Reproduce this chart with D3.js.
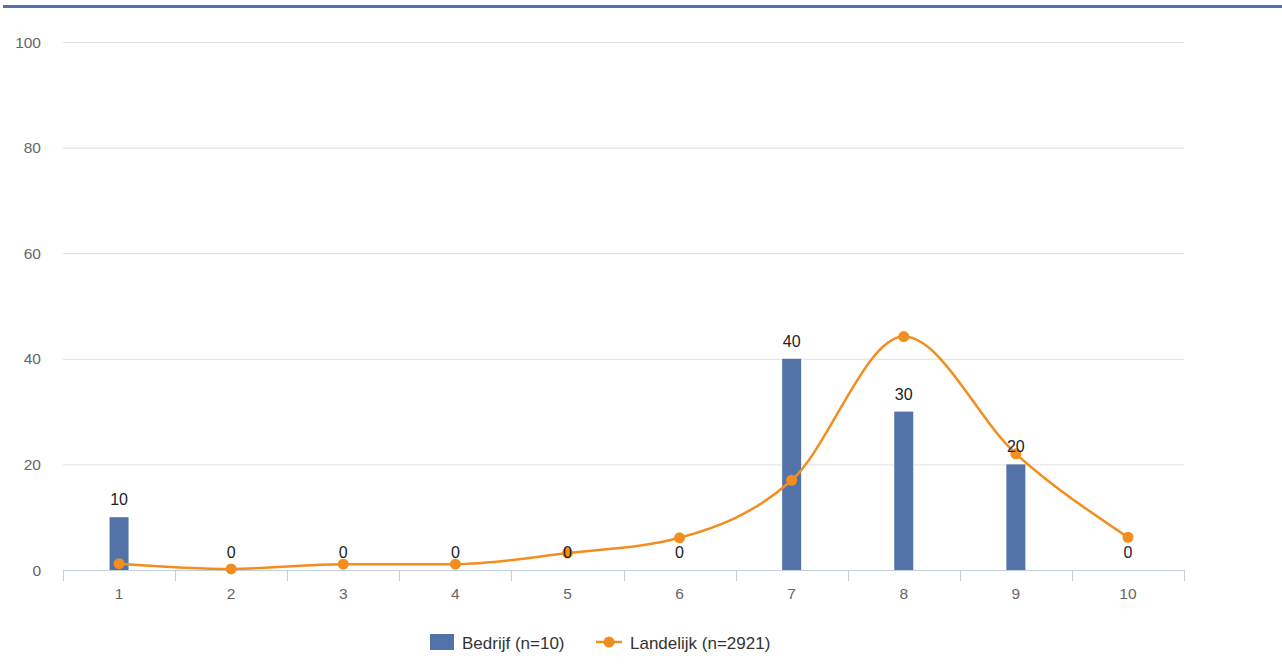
<!DOCTYPE html>
<html lang="nl">
<head>
  <meta charset="utf-8">
  <title>Bedrijf vs Landelijk</title>
  <style>
    body { margin:0; background:#fff; font-family:"Liberation Sans", Arial, sans-serif; }
    .grid line { stroke:#e0e0e0; stroke-width:1; }
    .ylab { fill:#666; font-size:15.5px; }
    .xlab { fill:#666; font-size:15.5px; }
    .dlabel { fill:#222; font-size:16px; }
    .legend text { fill:#333; font-size:17px; }
  </style>
</head>
<body>
  <svg id="chart" width="1282" height="669"></svg>
  <script src="https://cdn.jsdelivr.net/npm/d3@7"></script>
  <script>
    var categories = ["1","2","3","4","5","6","7","8","9","10"];
    var bedrijf = [10, 0, 0, 0, 0, 0, 40, 30, 20, 0];
    var landelijk = [1.2, 0.2, 1.1, 1.1, 3.2, 6.1, 17, 44.2, 22, 6.2];
    var yTicks = [0, 20, 40, 60, 80, 100];

    var svg = d3.select("#chart");
    var mLeft = 63, mRight = 1184, mTop = 42, mBottom = 570;

    // top border strip
    svg.append("rect").attr("x", 3).attr("y", 5).attr("width", 1279).attr("height", 3).attr("fill", "#5372a8");

    var x = d3.scaleBand().domain(categories).range([mLeft, mRight]);
    var y = d3.scaleLinear().domain([0, 100]).range([mBottom, mTop]);

    var grid = svg.append("g").attr("class", "grid");
    grid.selectAll("line").data(yTicks.filter(function(d){ return d > 0; })).enter().append("line")
        .attr("x1", mLeft).attr("x2", mRight)
        .attr("y1", function(d){ return y(d) + 0.5; }).attr("y2", function(d){ return y(d) + 0.5; });

    svg.selectAll("text.ylab").data(yTicks).enter().append("text")
        .attr("class", "ylab")
        .attr("x", 41)
        .attr("y", function(d){ return y(d) + 5.5; })
        .attr("text-anchor", "end")
        .text(function(d){ return d; });

    // x axis
    svg.append("line").attr("x1", mLeft).attr("x2", mRight).attr("y1", mBottom + 0.5).attr("y2", mBottom + 0.5)
        .attr("stroke", "#c0d0e0");
    var bounds = categories.map(function(c){ return x(c); }).concat([mRight]);
    svg.selectAll("line.tick").data(bounds).enter().append("line")
        .attr("class", "tick")
        .attr("x1", function(d){ return Math.round(d) + 0.5; }).attr("x2", function(d){ return Math.round(d) + 0.5; })
        .attr("y1", mBottom).attr("y2", mBottom + 11)
        .attr("stroke", "#c0d0e0");
    svg.selectAll("text.xlab").data(categories).enter().append("text")
        .attr("class", "xlab")
        .attr("x", function(d){ return x(d) + x.bandwidth() / 2; })
        .attr("y", 598.5)
        .attr("text-anchor", "middle")
        .text(function(d){ return d; });

    // bars
    var bw = 19;
    svg.selectAll("rect.bar").data(bedrijf).enter().append("rect")
        .attr("class", "bar")
        .attr("x", function(d, i){ return x(categories[i]) + x.bandwidth() / 2 - bw / 2; })
        .attr("y", function(d){ return y(d); })
        .attr("width", bw)
        .attr("height", function(d){ return mBottom - y(d); })
        .attr("fill", "#5372a8");

    // line
    var line = d3.line()
        .x(function(d, i){ return x(categories[i]) + x.bandwidth() / 2; })
        .y(function(d){ return y(d); })
        .curve(d3.curveMonotoneX);
    svg.append("path").datum(landelijk)
        .attr("d", line)
        .attr("fill", "none")
        .attr("stroke", "#f28e1f")
        .attr("stroke-width", 2.5);
    svg.selectAll("circle.pt").data(landelijk).enter().append("circle")
        .attr("class", "pt")
        .attr("cx", function(d, i){ return x(categories[i]) + x.bandwidth() / 2; })
        .attr("cy", function(d){ return y(d); })
        .attr("r", 5.5)
        .attr("fill", "#f28e1f");

    // data labels
    svg.selectAll("text.dlabel").data(bedrijf).enter().append("text")
        .attr("class", "dlabel")
        .attr("x", function(d, i){ return x(categories[i]) + x.bandwidth() / 2; })
        .attr("y", function(d){ return y(d) - 12; })
        .attr("text-anchor", "middle")
        .text(function(d){ return d; });

    // legend
    var lg = svg.append("g").attr("class", "legend");
    lg.append("rect").attr("x", 430).attr("y", 634).attr("width", 24).attr("height", 16).attr("fill", "#5372a8");
    lg.append("text").attr("x", 462).attr("y", 649).text("Bedrijf (n=10)");
    lg.append("line").attr("x1", 596).attr("x2", 622).attr("y1", 642).attr("y2", 642)
        .attr("stroke", "#f28e1f").attr("stroke-width", 2.5);
    lg.append("circle").attr("cx", 609).attr("cy", 642).attr("r", 5.5).attr("fill", "#f28e1f");
    lg.append("text").attr("x", 630).attr("y", 649).text("Landelijk (n=2921)");
  </script>
</body>
</html>
